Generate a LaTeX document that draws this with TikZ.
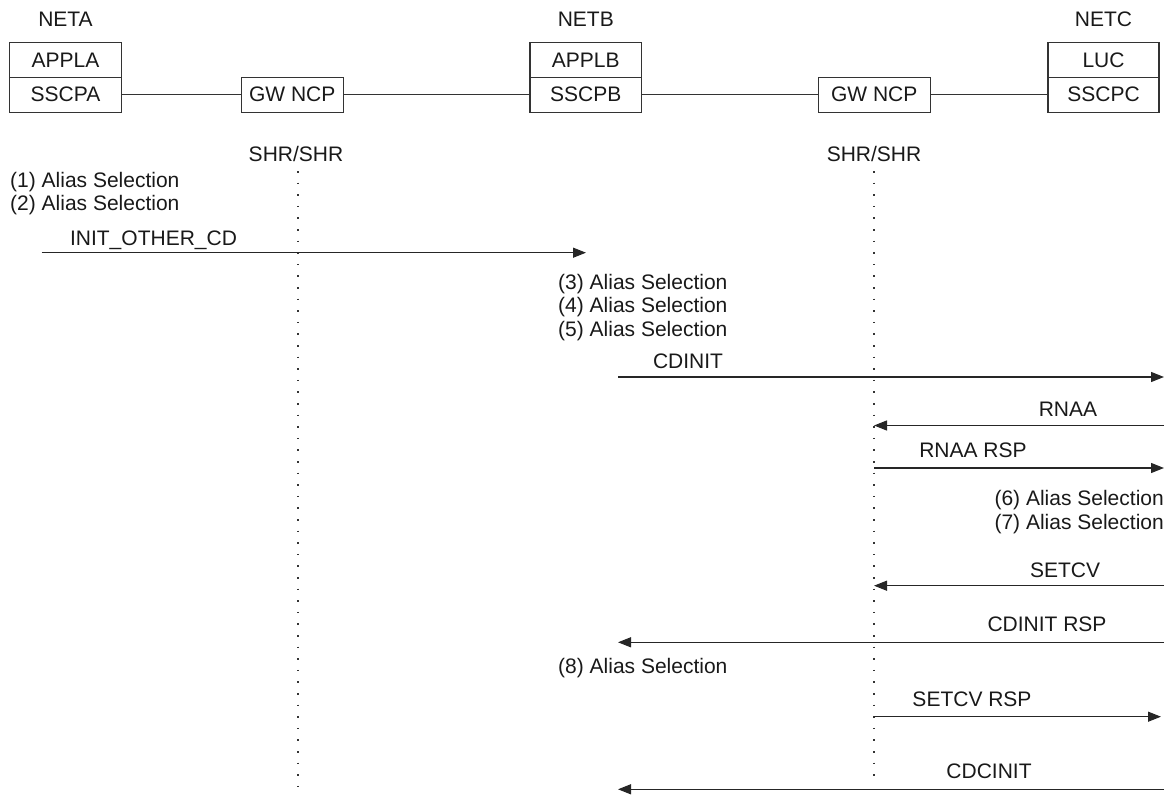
\documentclass[tikz,border=0pt]{standalone}
\usepackage{fontspec}
\setmainfont{Liberation Sans}
\usetikzlibrary{arrows.meta}
\begin{document}
\begin{tikzpicture}[x=1pt,y=-1pt,
  every node/.style={font=\fontsize{21pt}{23.5pt}\selectfont, inner sep=0pt, text=black!90},
  cell/.style={draw=black!80, line width=1.1pt, minimum height=34.7pt, inner sep=0pt},
  ttl/.style={anchor=base},
  sel/.style={anchor=base west},
  selr/.style={anchor=base east},
  link/.style={draw=black!80, line width=1.1pt},
  msg/.style={draw=black!85, line width=1.2pt, -{Triangle[length=13pt,width=10pt]}},
  life/.style={draw=black!80, line width=1.6pt, dash pattern=on 1.5pt off 10.1pt}
]
\useasboundingbox (0,0) rectangle (1168,795);

% network titles
\node[ttl] (neta) at (65.5,26) {NETA};
\node[ttl] (netb) at (585.8,26) {NETB};
\node[ttl] (netc) at (1103.5,26) {NETC};

% boxes
\node[cell, minimum width=112.4pt] (appla) at (65.5,60) {APPLA};
\node[cell, minimum width=112.4pt] (sscpa) at (65.5,94.7) {SSCPA};
\node[cell, minimum width=102.3pt] (gwa) at (292.2,94.7) {GW NCP};
\node[cell, minimum width=111.7pt] (applb) at (585.8,60) {APPLB};
\node[cell, minimum width=111.7pt] (sscpb) at (585.8,94.7) {SSCPB};
\node[cell, minimum width=111.7pt] (gwb) at (874.2,94.7) {GW NCP};
\node[cell, minimum width=111pt] (luc) at (1103.5,60) {LUC};
\node[cell, minimum width=111pt] (sscpc) at (1103.5,94.7) {SSCPC};

\draw[link] (sscpa.east) -- (gwa.west);
\draw[link] (gwa.east) -- (sscpb.west);
\draw[link] (sscpb.east) -- (gwb.west);
\draw[link] (gwb.east) -- (sscpc.west);

% SHR/SHR lifelines
\node[ttl] (shra) at (296,161.7) {SHR/SHR};
\node[ttl] (shrb) at (874,161.7) {SHR/SHR};
\coordinate (la1) at (297.7,171);
\coordinate (la2) at (297.7,794);
\coordinate (lb1) at (874,171);
\coordinate (lb2) at (874,783);
\draw[life] (la1) -- (la2);
\draw[life] (lb1) -- (lb2);

% alias selections
\node[sel] (s1) at (10,187.3) {(1) Alias Selection};
\node[sel] (s2) at (10,210.7) {(2) Alias Selection};
\node[sel] (s3) at (558,289) {(3) Alias Selection};
\node[sel] (s4) at (558,312.5) {(4) Alias Selection};
\node[sel] (s5) at (558,336) {(5) Alias Selection};
\node[selr] (s6) at (1164,505.7) {(6) Alias Selection};
\node[selr] (s7) at (1164,529) {(7) Alias Selection};
\node[sel] (s8) at (558,673) {(8) Alias Selection};

% messages
\coordinate (m1a) at (41.7,252.7);  \coordinate (m1b) at (586,252.7);
\coordinate (m2a) at (618,377);     \coordinate (m2b) at (1164,377);
\coordinate (m3a) at (1164,425.5);  \coordinate (m3b) at (874,425.5);
\coordinate (m4a) at (874,468);     \coordinate (m4b) at (1164,468);
\coordinate (m5a) at (1164,585.7);  \coordinate (m5b) at (874,585.7);
\coordinate (m6a) at (1164,642.3);  \coordinate (m6b) at (618,642.3);
\coordinate (m7a) at (874,716.7);   \coordinate (m7b) at (1161,716.7);
\coordinate (m8a) at (1164,789.3);  \coordinate (m8b) at (618,789.3);

\draw[msg] (m1a) -- (m1b);
\draw[msg] (m2a) -- (m2b);
\draw[msg] (m3a) -- (m3b);
\draw[msg] (m4a) -- (m4b);
\draw[msg] (m5a) -- (m5b);
\draw[msg] (m6a) -- (m6b);
\draw[msg] (m7a) -- (m7b);
\draw[msg] (m8a) -- (m8b);

\node[ttl] (t1) at (153.5,245) {INIT\_OTHER\_CD};
\node[ttl] (t2) at (688,368) {CDINIT};
\node[ttl] (t3) at (1068,416.7) {RNAA};
\node[ttl] (t4) at (973,457) {RNAA RSP};
\node[ttl] (t5) at (1065,577) {SETCV};
\node[ttl] (t6) at (1047,631.7) {CDINIT RSP};
\node[ttl] (t7) at (972,706.7) {SETCV RSP};
\node[ttl] (t8) at (989,778) {CDCINIT};
\end{tikzpicture}
\end{document}
